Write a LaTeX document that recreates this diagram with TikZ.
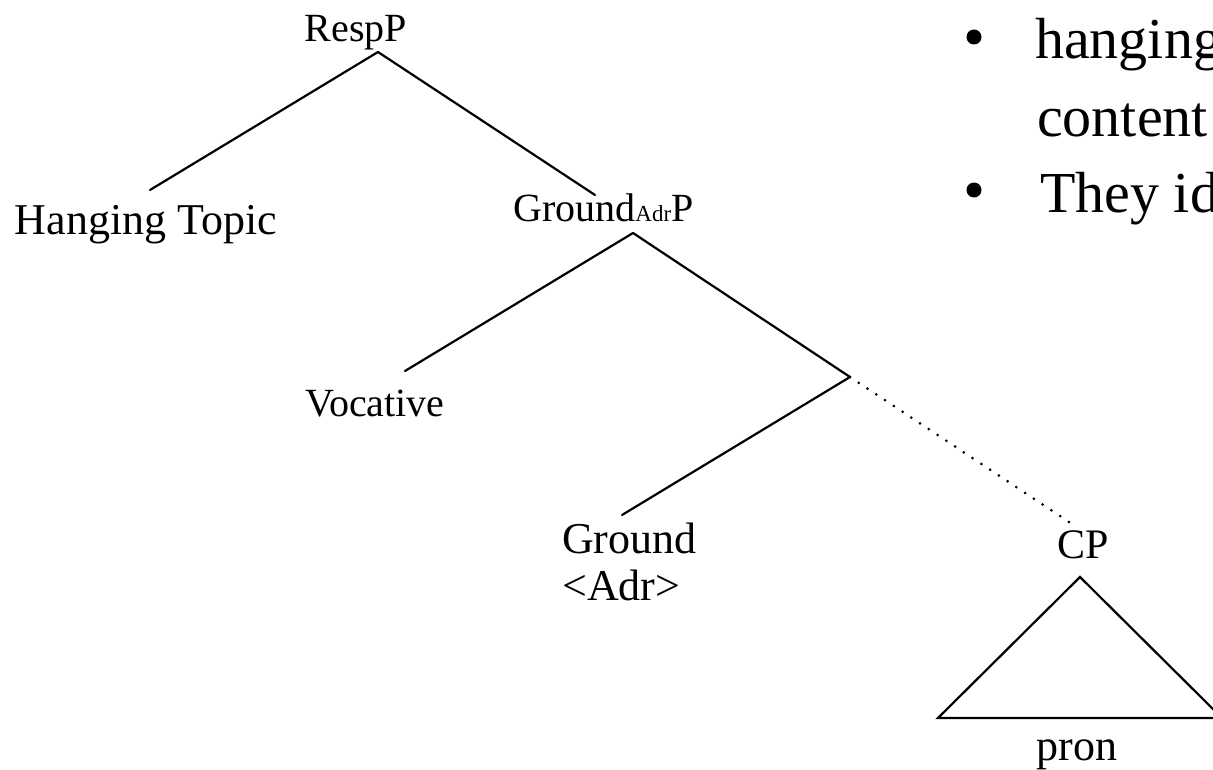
\documentclass[tikz,border=0pt]{standalone}
\usepackage{fontspec}
\setmainfont{Liberation Serif}
\begin{document}
\begin{tikzpicture}[x=1pt,y=-1pt,
  lbl/.style={inner sep=0pt, anchor=base, font=\fontsize{42}{50}\selectfont},
  bigl/.style={lbl, font=\fontsize{44}{52}\selectfont},
  smalll/.style={lbl, font=\fontsize{40}{48}\selectfont},
  bul/.style={inner sep=0pt, anchor=base west, font=\fontsize{58}{70}\selectfont},
  branch/.style={line width=2.2pt, line cap=round},
  dotline/.style={line width=3pt, line cap=round, dash pattern=on 0pt off 10.5pt}]
\useasboundingbox (0,0) rectangle (1213,770);
\clip (0,0) rectangle (1213,770);
% tree labels
\node[smalll] (respP) at (356,42) {RespP};
\node[bigl] (ht) at (146,235) {Hanging Topic};
\node[smalll, anchor=base west] (gap) at (513,222) {Ground{\fontsize{23}{26}\selectfont Adr}P};
\node[smalll] (voc) at (375,416) {Vocative};
\node[bigl, anchor=base west] (gr) at (562,553) {Ground};
\node[bigl, anchor=base west] (adr) at (562,600) {\textless Adr\textgreater};
\node[lbl] (cp) at (1083,558) {CP};
\node[bigl] (pron) at (1077,760) {pron};
% branch points
\coordinate (respTop) at (378,52);
\coordinate (htEnd) at (150,190);
\coordinate (gapEnd) at (595,195);
\coordinate (gapTop) at (633,233);
\coordinate (vocEnd) at (405,371);
\coordinate (junc) at (850,377);
\coordinate (gEnd) at (622,515);
\coordinate (cpEnd) at (1069,522);
\coordinate (triTop) at (1080,577);
\coordinate (triL) at (938,718);
\coordinate (triR) at (1222,718);
% branches
\draw[branch] (respTop) -- (htEnd);
\draw[branch] (respTop) -- (gapEnd);
\draw[branch] (gapTop) -- (vocEnd);
\draw[branch] (gapTop) -- (junc);
\draw[branch] (junc) -- (gEnd);
\draw[dotline] (junc) -- (cpEnd);
\draw[branch, line cap=butt, line join=miter] (triTop) -- (triL) -- (triR) -- cycle;
% bullet text
\fill (974,37) circle (7.5pt);
\fill (974,190) circle (7.5pt);
\node[bul] (b1) at (1035,59) {hanging};
\node[bul] (b2) at (1037,137) {content};
\node[bul] (b3) at (1040,213) {They id};
\end{tikzpicture}
\end{document}
